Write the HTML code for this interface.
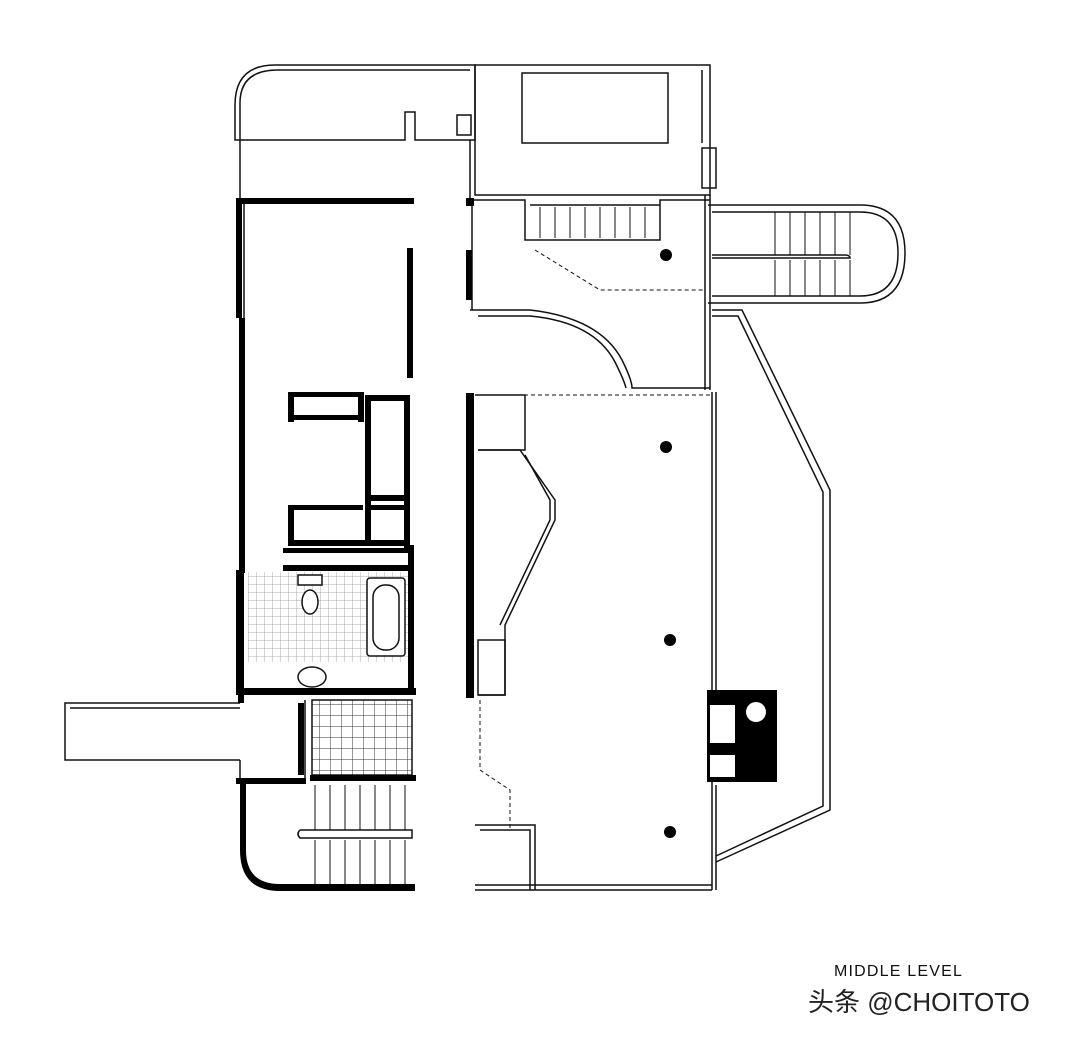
<!DOCTYPE html>
<html><head><meta charset="utf-8"><style>
html,body{margin:0;padding:0;background:#fff;}
svg{display:block}
</style></head><body>
<svg width="1080" height="1041" viewBox="0 0 1080 1041" xmlns="http://www.w3.org/2000/svg">
<defs>
<pattern id="grid" width="8" height="8" patternUnits="userSpaceOnUse"><path d="M8 0H0V8" fill="none" stroke="#999" stroke-width="0.8"/></pattern>
<pattern id="grid2" width="11" height="11" patternUnits="userSpaceOnUse"><path d="M11 0H0V11" fill="none" stroke="#333" stroke-width="1"/></pattern>
</defs>
<rect width="1080" height="1041" fill="#fff"/>
<g fill="none" stroke="#111" stroke-width="1.5">
<path d="M235 140 V105 Q235 65 275 65 H475 V140 H415 V112 H405 V140 Z"/>
<path d="M240 140 V103 Q240 70 278 70 H470"/>
<rect x="475" y="65" width="235" height="130"/>
<rect x="522" y="73" width="146" height="70"/>
<line x1="702" y1="70" x2="702" y2="143"/>
<rect x="702" y="148" width="14" height="40"/>
<rect x="457" y="115" width="14" height="20"/>
<line x1="240" y1="140" x2="240" y2="200"/>
<line x1="470" y1="140" x2="470" y2="200"/>
<path d="M470 200 H525 V240 H660 V200 H710"/>
<line x1="530" y1="205" x2="660" y2="205"/>
<line x1="472" y1="200" x2="472" y2="310"/>
<line x1="710" y1="195" x2="710" y2="390"/>
<line x1="705" y1="195" x2="705" y2="390"/>
<path d="M470 310 H530 Q600 318 622 360 Q632 380 632 388 H710"/>
<path d="M478 316 H530 Q594 322 615 362 Q624 380 626 388"/>
<path d="M535 250 L600 290 H705" stroke-dasharray="4 3" stroke-width="1"/>
<path d="M708 205 H860 Q905 205 905 253 Q905 303 860 303 H708"/>
<path d="M712 212 H860 Q898 212 898 253 Q898 296 860 296 H712"/>
<path d="M712 255 H845 Q850 255 850 258 H712" />
<g stroke-width="1">
<path d="M775 212V255M790 212V255M805 212V255M820 212V255M835 212V255M850 212V255M775 260V296M790 260V296M805 260V296M820 260V296M835 260V296M850 260V296"/>
<path d="M540 207V238M555 207V238M570 207V238M585 207V238M600 207V238M615 207V238M630 207V238M645 207V238"/>
</g>
<path d="M712 310 H742 L830 490 V810 L716 862"/>
<path d="M712 316 H738 L823 492 V806 L716 856"/>
<line x1="712" y1="392" x2="712" y2="890"/>
<line x1="716" y1="392" x2="716" y2="690"/>
<line x1="716" y1="785" x2="716" y2="890"/>
<line x1="475" y1="395" x2="712" y2="395" stroke-dasharray="4 3" stroke-width="1"/>
<path d="M475 395 H525 V450 H478"/>
<path d="M478 450 H520 L555 500 V520 L505 625 V695 H478"/>
<path d="M525 455 L550 500 V520 L500 625"/>
<rect x="478" y="640" width="27" height="55"/>
<path d="M480 700 V770 L510 790 V830" stroke-dasharray="4 3" stroke-width="1"/>
<path d="M475 825 H535 V890 M480 830 H530 V890"/>
<line x1="475" y1="890" x2="712" y2="890"/>
<line x1="475" y1="885" x2="712" y2="885"/>
<line x1="244" y1="200" x2="244" y2="570"/>
<path d="M240 703 H65 V760 H240"/>
<line x1="70" y1="708" x2="240" y2="708"/>
<line x1="240" y1="760" x2="240" y2="778"/>
<line x1="305" y1="700" x2="305" y2="778"/>
<g stroke-width="1">
<path d="M315 785V830M330 785V830M345 785V830M360 785V830M375 785V830M390 785V830M405 785V830M315 840V885M330 840V885M345 840V885M360 840V885M375 840V885M390 840V885M405 840V885"/>
</g>
<path d="M300 830 H412 V838 H300 Q296 834 300 830"/>
<ellipse cx="312" cy="677" rx="14" ry="10" fill="#fff"/>
</g>
<rect x="248" y="572" width="160" height="90" fill="url(#grid)"/>
<rect x="312" y="700" width="100" height="75" fill="url(#grid2)" stroke="#111" stroke-width="1.5"/>
<g fill="none" stroke="#111" stroke-width="1.5">
<rect x="367" y="578" width="38" height="78" rx="3" fill="#fff"/>
<rect x="373" y="585" width="26" height="65" rx="12"/>
<rect x="298" y="575" width="24" height="10" fill="#fff"/>
<ellipse cx="310" cy="602" rx="8" ry="12" fill="#fff"/>
</g>
<g fill="#000">
<rect x="236" y="198" width="178" height="6"/>
<rect x="466" y="198" width="8" height="8"/>
<rect x="236" y="198" width="6" height="120"/>
<rect x="239" y="318" width="6" height="255"/>
<rect x="236" y="570" width="8" height="125"/>
<rect x="236" y="688" width="180" height="7"/>
<rect x="407" y="248" width="6" height="130"/>
<rect x="288" y="392" width="6" height="30"/>
<rect x="288" y="392" width="75" height="5"/>
<rect x="288" y="415" width="75" height="5"/>
<rect x="358" y="392" width="6" height="30"/>
<rect x="365" y="395" width="45" height="6"/>
<rect x="365" y="395" width="6" height="150"/>
<rect x="404" y="395" width="6" height="155"/>
<rect x="365" y="495" width="45" height="6"/>
<rect x="365" y="505" width="45" height="5"/>
<rect x="288" y="505" width="75" height="5"/>
<rect x="288" y="505" width="6" height="40"/>
<rect x="288" y="540" width="122" height="6"/>
<rect x="283" y="548" width="130" height="5"/>
<rect x="283" y="565" width="130" height="6"/>
<rect x="408" y="545" width="6" height="150"/>
<rect x="466" y="250" width="6" height="50"/>
<rect x="466" y="393" width="8" height="305"/>
<rect x="310" y="775" width="106" height="6"/>
<rect x="236" y="778" width="70" height="6"/>
<path d="M240 780 H246 V850 Q246 884 280 884 H415 V891 H280 Q240 891 240 850 Z"/>
<rect x="238" y="695" width="6" height="8"/>
<rect x="298" y="703" width="6" height="72"/>
<circle cx="666" cy="255" r="6"/>
<circle cx="666" cy="447" r="6"/>
<circle cx="670" cy="640" r="6"/>
<circle cx="670" cy="832" r="6"/>
<rect x="707" y="690" width="70" height="92"/>
</g>
<g fill="#fff">
<circle cx="756" cy="712" r="10"/>
<rect x="710" y="705" width="25" height="38"/>
<rect x="710" y="755" width="25" height="22"/>
</g>
<text x="834" y="976" font-family="Liberation Sans, sans-serif" font-size="16" letter-spacing="1.2" fill="#111">MIDDLE LEVEL</text>
<text x="808" y="1011" font-family="Liberation Sans, 'Noto Sans CJK SC', sans-serif" font-size="26" fill="#222">头条 @CHOITOTO</text>
</svg>
</body></html>
